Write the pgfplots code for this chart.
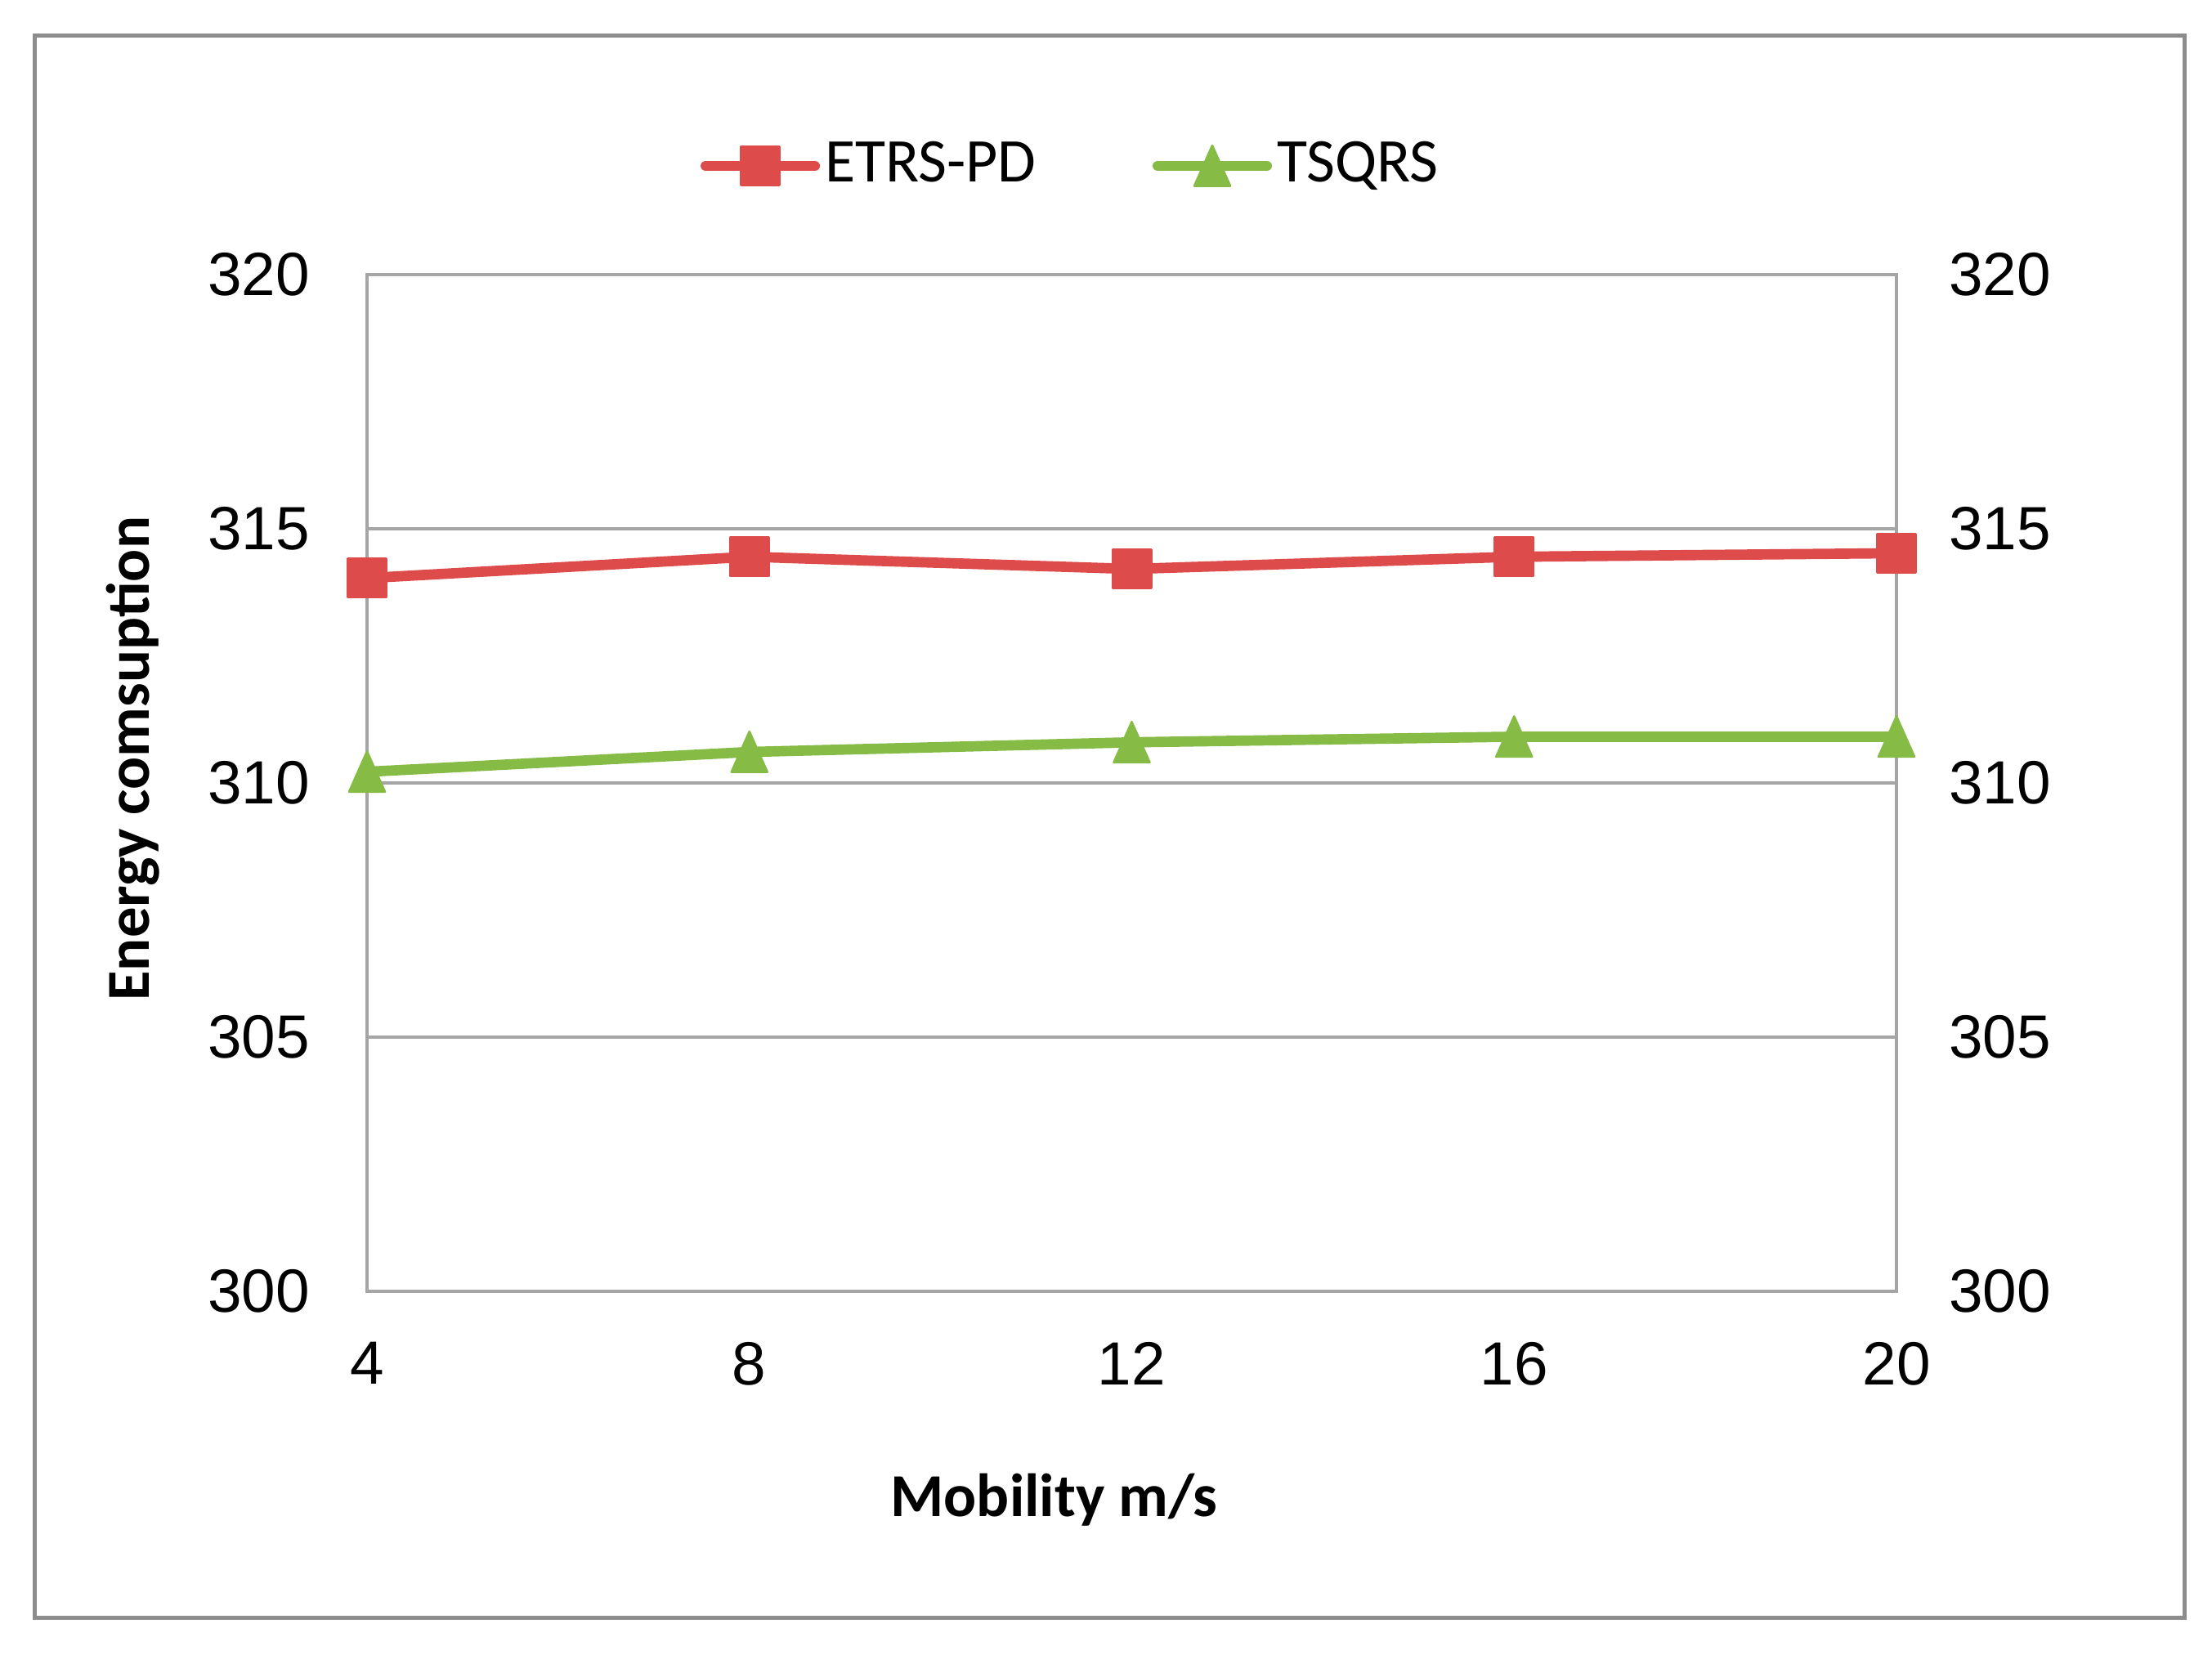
\documentclass[border=0pt]{standalone}
\usepackage{fontspec}
\setmainfont{Carlito}
\newfontfamily\arialfont{Liberation Sans}
\usepackage{pgfplots}
\pgfplotsset{compat=1.18}
\definecolor{serred}{RGB}{222,75,75}
\definecolor{sergreen}{RGB}{134,188,70}
\definecolor{gridgray}{RGB}{165,165,165}
\definecolor{framegray}{RGB}{140,140,140}

\begin{document}
\begin{tikzpicture}
\path[use as bounding box] (-67.35pt,-66.6pt) rectangle (338.55pt,237pt);
\draw[framegray, line width=0.75pt] (-60.98pt,-59.85pt) rectangle (333.56pt,230.48pt);
\begin{axis}[
  at={(0pt,0pt)}, anchor=south west,
  scale only axis, width=280.65pt, height=186.6pt,
  xmin=4, xmax=20, ymin=300, ymax=320,
  xtick={4,8,12,16,20}, ytick={300,305,310,315,320},
  ymajorgrids, major grid style={gridgray, line width=0.5pt},
  axis line style={gridgray, line width=0.5pt},
  major tick length=0pt, tick style={draw=none},
  /pgf/number format/assume math mode=true,
  tick label style={font=\arialfont\fontsize{11.2}{13}\selectfont, inner sep=0pt},
  yticklabel style={anchor=east, xshift=-10.3pt},
  xticklabel style={anchor=north, yshift=-9.1pt},
  clip=false,
  xlabel={Mobility m/s}, ylabel={Energy comsuption},
  every axis x label/.style={at={(axis description cs:0.449,-0.2211)}, anchor=base, font=\bfseries\fontsize{11.2}{13}\selectfont},
  every axis y label/.style={at={(axis description cs:-0.1422,0.524)}, rotate=90, anchor=base, font=\bfseries\fontsize{11.2}{13}\selectfont},
  legend columns=2,
  legend style={at={(axis description cs:0.2181,1.1069)}, anchor=west, draw=none, fill=none,
    inner sep=0pt, outer sep=0pt, font=\fontsize{11.4}{13}\selectfont,
    nodes={inner sep=0pt},
    /tikz/every odd column/.append style={column sep=0.9pt},
    /tikz/every even column/.append style={column sep=21.4pt}},
  legend image code/.code={\draw[mark repeat=2,mark phase=2] plot coordinates {(0pt,0pt) (10pt,0pt) (20pt,0pt)};},
]
\addplot[serred, line width=1.9pt, line cap=round, line join=round, mark=square*, mark size=3.55pt,
  mark options={solid, line width=0.4pt}]
  coordinates {(4,314.03) (8,314.45) (12,314.21) (16,314.45) (20,314.52)};
\addlegendentry{ETRS-PD}
\addplot[sergreen, line width=1.9pt, line cap=round, line join=round, mark=triangle*, mark size=3.8pt,
  mark options={solid, line width=0.4pt, yshift=-1.2pt, yscale=1.3}]
  coordinates {(4,310.22) (8,310.61) (12,310.80) (16,310.91) (20,310.91)};
\addlegendentry{TSQRS}
\end{axis}
\begin{axis}[
  at={(0pt,0pt)}, anchor=south west,
  scale only axis, width=280.65pt, height=186.6pt,
  xmin=4, xmax=20, ymin=300, ymax=320,
  hide x axis, axis y line*=right, axis line style={draw=none},
  ytick={300,305,310,315,320},
  major tick length=0pt, tick style={draw=none},
  /pgf/number format/assume math mode=true,
  yticklabel style={font=\arialfont\fontsize{11.2}{13}\selectfont, inner sep=0pt, anchor=west, xshift=9.45pt},
]
\end{axis}
\end{tikzpicture}
\end{document}
